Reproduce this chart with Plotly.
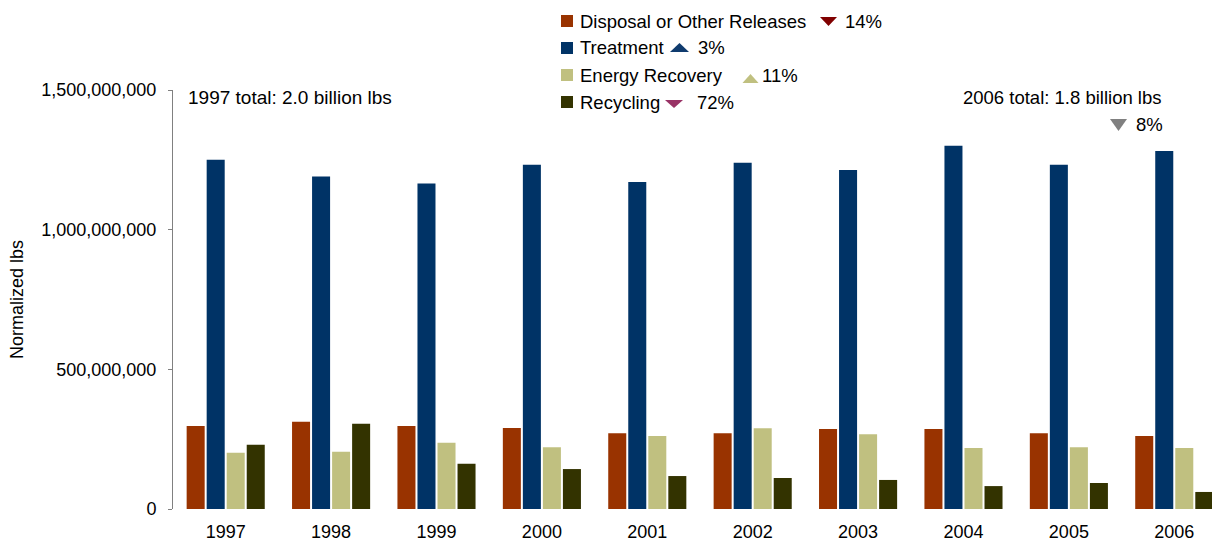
import plotly.graph_objects as go

years = ["1997", "1998", "1999", "2000", "2001", "2002", "2003", "2004", "2005", "2006"]
disposal = [297e6, 312e6, 297e6, 290e6, 271e6, 271e6, 286e6, 286e6, 271e6, 261e6]
treatment = [1250e6, 1190e6, 1165e6, 1232e6, 1171e6, 1240e6, 1214e6, 1300e6, 1232e6, 1282e6]
energy = [201e6, 205e6, 237e6, 221e6, 261e6, 289e6, 268e6, 218e6, 221e6, 218e6]
recycling = [230e6, 305e6, 162e6, 143e6, 118e6, 111e6, 104e6, 82e6, 93e6, 61e6]

series_names = ["Disposal or Other Releases", "Treatment", "Energy Recovery", "Recycling"]
series_colors = ["#993300", "#003366", "#C0C080", "#333300"]
change_labels = ["14%", "3%", "11%", "72%"]
change_dirs = ["down", "up", "up", "down"]
change_colors = ["#800000", "#0F3B6E", "#C0C080", "#993366"]
ytick_vals = [0, 500e6, 1000e6, 1500e6]

W, H = 1212, 543
L, R, T, B = 173, 0, 90, 34
PW, PH = W - L - R, H - T - B


def px(x):
    return (x - L) / PW


def py(y):
    return (H - B - y) / PH


FONT = "Liberation Sans, Arial, sans-serif"

fig = go.Figure()
for name, vals, col in zip(series_names, [disposal, treatment, energy, recycling], series_colors):
    fig.add_trace(go.Bar(x=years, y=vals, name=name, marker=dict(color=col, line=dict(width=0)),
                         showlegend=False))

shapes = []
annotations = []


def tri(cx, y0, y1, w, direction, color):
    # y0 top pixel, y1 bottom pixel
    if direction == "down":
        path = f"M {px(cx - w / 2)},{py(y0)} L {px(cx + w / 2)},{py(y0)} L {px(cx)},{py(y1)} Z"
    else:
        path = f"M {px(cx - w / 2)},{py(y1)} L {px(cx + w / 2)},{py(y1)} L {px(cx)},{py(y0)} Z"
    shapes.append(dict(type="path", xref="paper", yref="paper", path=path,
                       fillcolor=color, line=dict(width=0)))


def label(x, y, text, anchor="left", size=18.5):
    annotations.append(dict(x=px(x), y=py(y), xref="paper", yref="paper", text=text,
                            showarrow=False, xanchor=anchor, yanchor="middle",
                            font=dict(family=FONT, size=size, color="#000000")))


row_y = [21, 48, 75, 102]
tri_pos = [(828.5, 17, 26, 17), (679.5, 43, 52, 19), (750.5, 74, 83, 16), (674, 100, 108, 18)]
pct_x = [845, 698, 762, 697]
for i in range(4):
    yc = row_y[i]
    shapes.append(dict(type="rect", xref="paper", yref="paper",
                       x0=px(561), x1=px(573), y0=py(yc - 6), y1=py(yc + 6),
                       fillcolor=series_colors[i], line=dict(width=0)))
    label(578, yc, series_names[i])
    cx, t0, t1, w = tri_pos[i]
    tri(cx, t0, t1, w, change_dirs[i], change_colors[i])
    label(pct_x[i] - 2, yc, change_labels[i])

label(186, 97, "1997 total: 2.0 billion lbs", size=19)
label(1164, 97, "2006 total: 1.8 billion lbs", anchor="right", size=18.5)
tri(1118.5, 119, 131, 17, "down", "#808080")
label(1134, 124, "8%")

fig.update_layout(
    width=W, height=H,
    margin=dict(l=L, r=R, t=T, b=B, autoexpand=False),
    paper_bgcolor="white", plot_bgcolor="white",
    barmode="group", bargap=0.24, bargroupgap=0.1,
    font=dict(family=FONT, size=18, color="#000000"),
    shapes=shapes, annotations=annotations,
    xaxis=dict(type="category", range=[-0.5, 9.358], showline=False, showgrid=False,
               ticks="", tickfont=dict(size=18), ticklabelstandoff=10, zeroline=False),
    yaxis=dict(range=[0, 1.5e9], tickvals=ytick_vals, tickformat=",", showgrid=False,
               showline=True, linecolor="#808080", linewidth=1, ticks="outside",
               ticklen=4, tickcolor="#808080", tickfont=dict(size=18), zeroline=False,
               ticklabelstandoff=8,
               title=dict(text="Normalized lbs", font=dict(size=18), standoff=12)),
)

fig.write_html("out.html", config={"displayModeBar": False},
               post_script="document.body.style.margin='0';document.body.style.overflow='hidden';")
